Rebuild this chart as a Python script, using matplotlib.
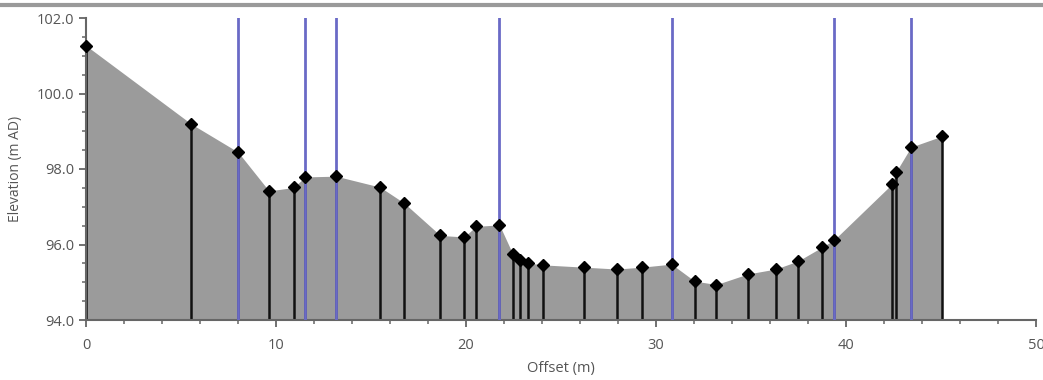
import matplotlib.pyplot as plt
from matplotlib.lines import Line2D
from matplotlib.ticker import MultipleLocator, FormatStrFormatter

plt.rcParams['font.family'] = ['Open Sans', 'DejaVu Sans']

# surveyed cross-section points
offset = [0.0, 5.55, 8.0, 9.63, 10.93, 11.53, 13.16, 15.48, 16.74, 18.65, 19.9,
          20.53, 21.76, 22.47, 22.84, 23.26, 24.05, 26.2, 27.95, 29.26, 30.82,
          32.03, 33.18, 34.84, 36.3, 37.47, 38.74, 39.37, 42.42, 42.63, 43.42, 45.05]
elev = [101.27, 99.19, 98.45, 97.42, 97.51, 97.79, 97.81, 97.52, 97.10, 96.24, 96.20,
        96.48, 96.52, 95.74, 95.60, 95.51, 95.46, 95.40, 95.35, 95.40, 95.48,
        95.03, 94.94, 95.22, 95.35, 95.56, 95.93, 96.12, 97.60, 97.92, 98.58, 98.87]

# panel marker offsets (blue verticals)
panels = [8.0, 11.53, 13.16, 21.76, 30.82, 39.37, 43.42]

ymin, ymax = 94.0, 102.0

fig = plt.figure(figsize=(10.43, 3.80), dpi=100)
ax = fig.add_axes([86/1043, 1 - 320/380, 950/1043, 302/380])

ax.fill_between(offset, elev, ymin, color='#9b9b9b', lw=0, zorder=1)
ax.vlines(offset, ymin, elev, color='#111111', lw=1.8, zorder=2)
for p in panels:
    ax.axvline(p, color='#6a6ac6', lw=2, zorder=3)
ax.plot(offset, elev, ls='none', marker='D', ms=6.5, color='#000000', zorder=4, clip_on=False)

ax.set_xlim(0, 50)
ax.set_ylim(ymin, ymax)
ax.xaxis.set_major_locator(MultipleLocator(10))
ax.xaxis.set_minor_locator(MultipleLocator(2))
ax.yaxis.set_major_locator(MultipleLocator(2))
ax.yaxis.set_minor_locator(MultipleLocator(0.5))
ax.yaxis.set_major_formatter(FormatStrFormatter('%.1f'))

for s in ['top', 'right']:
    ax.spines[s].set_visible(False)
for s in ['left', 'bottom']:
    ax.spines[s].set_color('#666666')
    ax.spines[s].set_linewidth(1.5)

ax.tick_params(which='major', length=5, width=1.3, color='#666666', labelcolor='#555555', labelsize=10.5)
ax.tick_params(which='minor', length=3, width=1.1, color='#666666')
ax.tick_params(axis='x', pad=8)

ax.set_xlabel('Offset (m)', color='#555555', fontsize=10.5, labelpad=6)
ax.set_ylabel('Elevation (m AD)', color='#555555', fontsize=10, labelpad=10)

# window border at top
fig.add_artist(Line2D([0, 1], [1 - 5/380, 1 - 5/380], transform=fig.transFigure,
                      color='#9a9a9a', lw=3))

fig.savefig('out.png', dpi=100)
